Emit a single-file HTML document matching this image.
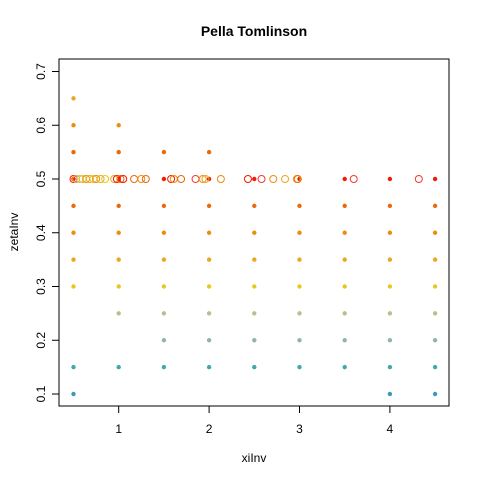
<!DOCTYPE html>
<html><head><meta charset="utf-8"><style>
body{margin:0;background:#fff}
svg{display:block;font-family:"Liberation Sans",sans-serif}
</style></head><body>
<svg id="c" width="480" height="480" viewBox="0 0 480 480">
<rect width="480" height="480" fill="#fff"/>
<text x="254" y="36" text-anchor="middle" font-size="14" font-weight="bold">Pella Tomlinson</text>
<rect x="59" y="59" width="390" height="347" fill="none" stroke="#000"/>
<g id="xa"></g>
<g id="ya"></g>
<text x="254" y="462" text-anchor="middle" font-size="12">xiInv</text>
<text transform="translate(18,232) rotate(-90)" text-anchor="middle" font-size="12">zetaInv</text>
<g id="pts"></g>
</svg>
<script>
const xTicks=[1,2,3,4];
const yTicks=[0.1,0.2,0.3,0.4,0.5,0.6,0.7];
const gridX=[0.5,1,1.5,2,2.5,3,3.5,4,4.5];
const gridY=[
[0.1,0.15,0.3,0.35,0.4,0.45,0.5,0.55,0.6,0.65],
[0.15,0.25,0.3,0.35,0.4,0.45,0.5,0.55,0.6],
[0.15,0.2,0.25,0.3,0.35,0.4,0.45,0.5,0.55],
[0.15,0.2,0.25,0.3,0.35,0.4,0.45,0.5,0.55],
[0.15,0.2,0.25,0.3,0.35,0.4,0.45,0.5],
[0.15,0.2,0.25,0.3,0.35,0.4,0.45,0.5],
[0.15,0.2,0.25,0.3,0.35,0.4,0.45,0.5],
[0.1,0.15,0.2,0.25,0.3,0.35,0.4,0.45,0.5],
[0.1,0.15,0.2,0.25,0.3,0.35,0.4,0.45,0.5]];
const openX=[0.5,0.53,0.57,0.6,0.64,0.68,0.72,0.75,0.8,0.85,0.95,0.98,1.02,1.05,1.17,1.25,1.3,1.58,1.61,1.69,1.85,1.93,1.96,2.13,2.43,2.58,2.71,2.84,2.97,2.98,3.6,4.32];
const openC=["#F21A00","#E9A820","#B5C08A","#E8C820","#EB8F0A","#E9A820","#E8C820","#EB8F0A","#E9A820","#E8C820","#E9A820","#F21A00","#E86A0A","#F21A00","#E86A0A","#EB8F0A","#E86A0A","#F21A00","#EB8F0A","#E86A0A","#F23A30","#EB8F0A","#E9A820","#EB8F0A","#F21A00","#F23A30","#EB8F0A","#E9A820","#E9A820","#E86A0A","#F23A30","#F23A30"];
const ns="http://www.w3.org/2000/svg";
const sx=v=>28.3+v*90.4, sy=v=>448+(0.1-v)*537.5-0+(-0)-54+0*0; // 0.1->394
function sy2(v){return 394-(v-0.1)*537.5;}
function col(y){const d=Math.round(Math.abs(y-0.5)*20);
return ["#F21A00","#E86A0A","#EB8F0A","#E9A820","#E8C820","#B5C08A","#8DB6AA","#45A8A8","#3A9AB2"][d];}
function mk(t,a,p){const e=document.createElementNS(ns,t);for(const k in a)e.setAttribute(k,a[k]);p.appendChild(e);return e;}
const xa=document.getElementById('xa'),ya=document.getElementById('ya'),pts=document.getElementById('pts');
xTicks.forEach(v=>{const x=sx(v);
const l=mk('line',{x1:x,x2:x,y1:406,y2:413,stroke:'#000'},xa);


const t=mk('text',{x:x,y:433,'text-anchor':'middle','font-size':12},xa);t.textContent=v;

});
yTicks.forEach(v=>{const y=sy2(v);
const l=mk('line',{x1:52,x2:59,y1:y,y2:y,stroke:'#000'},ya);


const t=mk('text',{'text-anchor':'middle','font-size':12,transform:`translate(45,${y}) rotate(-90)`},ya);t.textContent=v;

});
gridX.forEach((x,i)=>gridY[i].forEach(y=>{
const c=mk('circle',{cx:sx(x),cy:sy2(y),r:2.2,fill:col(y)},pts);

}));
openX.forEach((x,i)=>{
const c=mk('circle',{cx:sx(x),cy:sy2(0.5),r:3.5,fill:'none',stroke:openC[i],'stroke-width':1},pts);

});
</script>
</body></html>
